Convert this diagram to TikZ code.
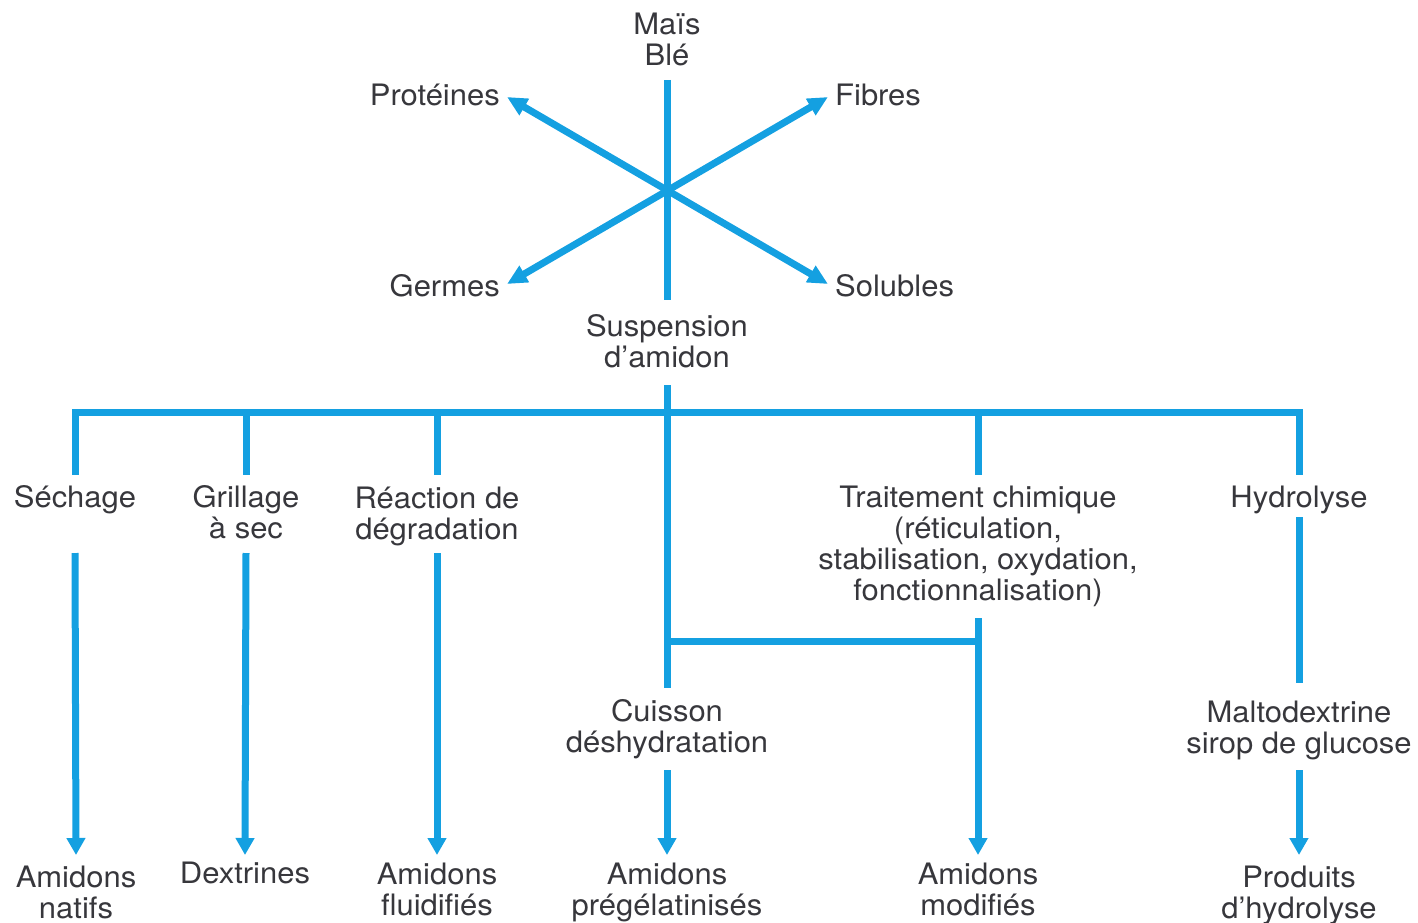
\documentclass[tikz,border=0pt]{standalone}
\usepackage{fontspec}
\setmainfont[FakeStretch=1.05]{TeX Gyre Heros}
\usetikzlibrary{arrows.meta,calc}
\definecolor{blu}{RGB}{20,160,225}
\definecolor{txt}{RGB}{55,55,60}
\begin{document}
\begin{tikzpicture}[x=1pt,y=-1pt,
  lbl/.style={text=txt, font=\fontsize{29.5}{31}\selectfont, align=center, inner sep=0pt},
  ln/.style={draw=blu, line width=7pt},
  arr/.style={ln, -{Triangle[length=17pt,width=18pt]}},
  darr/.style={ln, {Triangle[length=20pt,width=18pt]}-{Triangle[length=20pt,width=18pt]}}]
\useasboundingbox (0,0) rectangle (1418,923);
% nodes
\node[lbl] (mais) at (667,39) {Maïs\\Blé};
\node[lbl,anchor=east] (prot) at (500,95) {Protéines};
\node[lbl,anchor=west] (fib) at (835,95) {Fibres};
\node[lbl,anchor=east] (germ) at (500,286) {Germes};
\node[lbl,anchor=west] (sol) at (835,286) {Solubles};
\node[lbl] (susp) at (667,341) {Suspension\\d’amidon};
\node[lbl] (sech) at (75,500) {Séchage};
\node[lbl] (gril) at (246,512) {Grillage\\à sec};
\node[lbl] (reac) at (437,516) {Réaction de\\dégradation};
\node[lbl] (trait) at (978,546.5) {Traitement chimique\\(réticulation,\\stabilisation, oxydation,\\fonctionnalisation)};
\node[lbl] (hydr) at (1299,500) {Hydrolyse};
\node[lbl] (cuis) at (667,729) {Cuisson\\déshydratation};
\node[lbl] (malt) at (1299,730) {Maltodextrine\\sirop de glucose};
\node[lbl] (nat) at (76,892) {Amidons\\natifs};
\node[lbl] (dex) at (245,873) {Dextrines};
\node[lbl] (flu) at (437,889) {Amidons\\fluidifiés};
\node[lbl] (pre) at (667,892) {Amidons\\prégélatinisés};
\node[lbl] (mod) at (978,889) {Amidons\\modifiés};
\node[lbl] (prod) at (1299,895) {Produits\\d’hydrolyse};
\coordinate (bar) at (667,412);
\coordinate (j) at (978,641);
% top part
\draw[ln] ($(mais.center)+(0,41)$) -- ($(susp.center)+(0,-41)$);
\draw[darr] ($(prot.east)+(7,2)$) -- ($(sol.west)+(-7,-2)$);
\draw[darr] ($(fib.west)+(-7,2)$) -- ($(germ.east)+(7,-2)$);
% trunk
\draw[ln] ($(susp.center)+(0,44)$) -- ($(cuis.center)+(0,-41)$);
\draw[ln] ($(sech.center)+(0,-25)$) -- (sech.center |- bar) -- (hydr.center |- bar) -- ($(hydr.center)+(0,-25)$);
\draw[ln] (gril.center |- bar) -- ($(gril.center)+(0,-37)$);
\draw[ln] (reac.center |- bar) -- ($(reac.center)+(0,-41)$);
\draw[ln] (trait.center |- bar) -- ($(trait.center)+(0,-71.5)$);
% branches down
\draw[arr] ($(sech.center)+(0,53)$) -- ($(nat.center)+(0,-37)$);
\draw[arr] ($(gril.center)+(0,41)$) -- ($(dex.center)+(0,-18)$);
\draw[arr] ($(reac.center)+(0,37)$) -- ($(flu.center)+(0,-34)$);
\draw[arr] ($(cuis.center)+(0,41)$) -- ($(pre.center)+(0,-37)$);
\draw[arr] ($(trait.center)+(0,71.5)$) -- ($(mod.center)+(0,-34)$);
\draw[ln] (susp.center |- j) -- (j);
\draw[ln] ($(hydr.center)+(0,17)$) -- ($(malt.center)+(0,-47)$);
\draw[arr] ($(malt.center)+(0,40)$) -- ($(prod.center)+(0,-40)$);
\end{tikzpicture}
\end{document}
